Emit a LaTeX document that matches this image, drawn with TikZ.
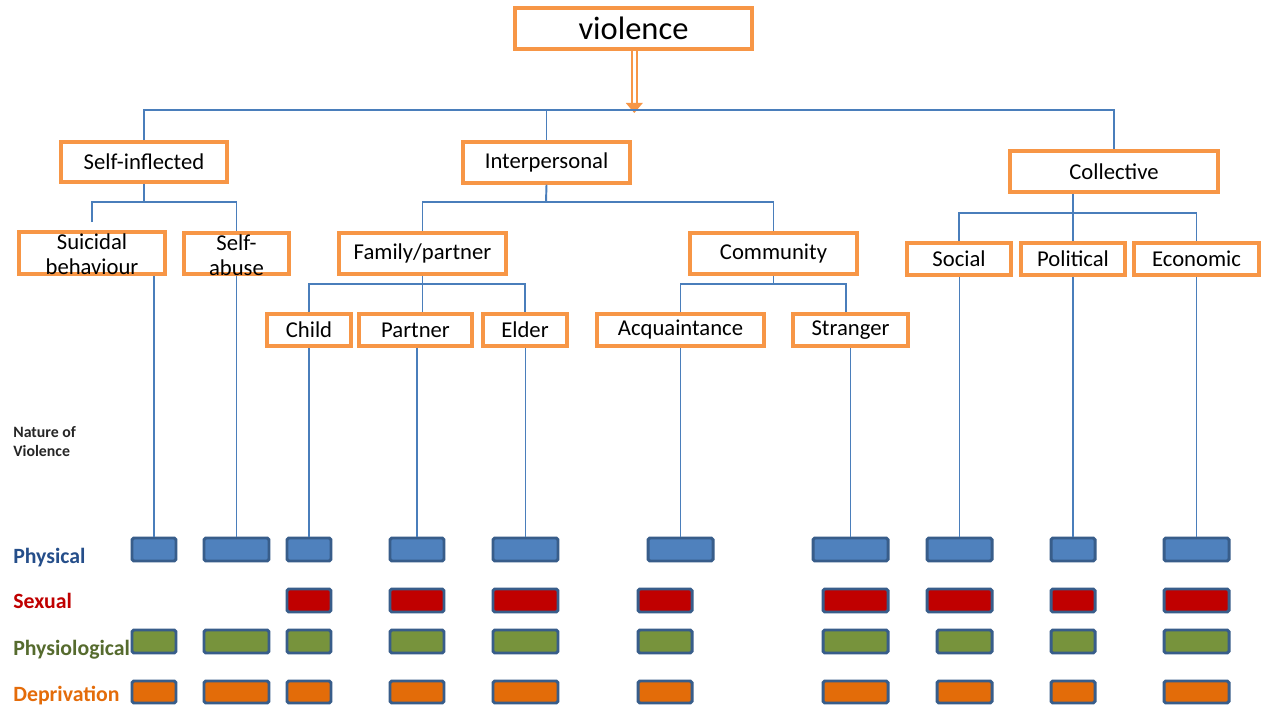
\documentclass[tikz,border=0pt]{standalone}
\usepackage{fontspec}
\setmainfont{Carlito}
\usetikzlibrary{fit}
\definecolor{ob}{HTML}{F79646}
\definecolor{lb}{HTML}{4A7EBB}
\definecolor{bb}{HTML}{385D8A}
\definecolor{physf}{HTML}{4F81BD}
\definecolor{sexf}{HTML}{C00000}
\definecolor{psyf}{HTML}{77933C}
\definecolor{depf}{HTML}{E36C09}
\definecolor{physt}{HTML}{254E8A}
\definecolor{sext}{HTML}{C00000}
\definecolor{psyt}{HTML}{566B2E}
\definecolor{dept}{HTML}{E46C0A}
\definecolor{natt}{HTML}{262626}
\begin{document}
\begin{tikzpicture}[x=0.02cm,y=-0.02cm,
  obox/.style={draw=ob, line width=2pt, fill=white, inner sep=0pt, font=\fontsize{12.9}{14.5}\selectfont, align=center},
  otext/.style={inner sep=0pt, font=\fontsize{12.9}{14.2}\selectfont, align=center},
  conn/.style={draw=lb, line width=1.1pt},
  barbox/.style={draw=bb, line width=1.7pt, rounded corners=1pt, inner sep=0pt},
  lab/.style={anchor=base west, inner sep=0pt, font=\fontsize{12.4}{14}\selectfont\bfseries}]
\path[fill=white] (0,0) rectangle (1268,706);

% boxes
\node[obox, minimum width=4.74cm, minimum height=0.82cm, font=\fontsize{18.5}{20}\selectfont] (vio) at (633.5,28.5) {violence};
\node[obox, minimum width=3.32cm, minimum height=0.80cm] (si) at (144,162) {Self-inflected};
\node[obox, minimum width=3.34cm, minimum height=0.82cm] (ip) at (546.5,162.5) {Interpersonal};
\node[obox, minimum width=4.16cm, minimum height=0.82cm] (coll) at (1114,171.5) {Collective};
\node[obox, minimum width=2.92cm, minimum height=0.84cm] (su) at (92,253) {};
\node[otext] (sut) at (92,254.5) {Suicidal\\behaviour};
\node[obox, minimum width=2.10cm, minimum height=0.82cm] (sa) at (236.5,253.5) {};
\node[otext] (sat) at (236.5,255) {Self-\\abuse};
\node[obox, minimum width=3.34cm, minimum height=0.82cm] (fp) at (422.5,253.5) {Family/partner};
\node[obox, minimum width=3.34cm, minimum height=0.82cm] (cm) at (773.5,253.5) {Community};
\node[obox, minimum width=1.68cm, minimum height=0.64cm] (ch) at (309,330) {Child};
\node[obox, minimum width=2.26cm, minimum height=0.64cm] (pa) at (415.5,330) {Partner};
\node[obox, minimum width=1.68cm, minimum height=0.64cm] (el) at (525,330) {Elder};
\node[obox, minimum width=3.34cm, minimum height=0.64cm] (ac) at (680.5,330) {Acquaintance};
\node[obox, minimum width=2.30cm, minimum height=0.64cm] (st) at (850.5,330) {Stranger};
\node[obox, minimum width=2.08cm, minimum height=0.64cm] (so) at (959,259) {Social};
\node[obox, minimum width=2.08cm, minimum height=0.64cm] (po) at (1073,259) {Political};
\node[obox, minimum width=2.50cm, minimum height=0.64cm] (ec) at (1196.5,259) {Economic};

% arrow from violence
\coordinate (ahead) at (634.3,104);
\coordinate (atip) at (634.3,113);
\draw[ob, line width=0.85pt, double=white, double distance=2pt] (vio.south -| ahead) -- (ahead);
\fill[ob] (625.8,103) -- (642.8,103) -- (atip) -- cycle;

% top level connectors
\coordinate (jt) at (144,110);
\draw[conn] (si.north) |- (coll.north |- jt) -- (coll.north);
\draw[conn] (ip.north) -- (ip.north |- jt);

% self-inflected
\coordinate (j2) at (144,202);
\coordinate (se) at (92,222);
\draw[conn] (si.south) -- (j2);
\draw[conn] (se) |- (sa.north |- j2) -- (sa.north);

% interpersonal
\coordinate (j3) at (546,202);
\draw[conn] (ip.south) -- (j3);
\draw[conn] (fp.north) |- (cm.north |- j3) -- (cm.north);

% family
\coordinate (j4) at (422,284);
\draw[conn] (fp.south) -- (fp.south |- j4);
\draw[conn] (ch.north) |- (el.north |- j4) -- (el.north);
\draw[conn] (fp.south |- j4) -- (fp.south |- pa.north);

% community
\coordinate (sd) at (846,284);
\draw[conn] (cm.south) -- (cm.south |- sd);
\draw[conn] (ac.north) |- (sd) -- (sd |- st.north);

% collective
\coordinate (cd) at (1073,213);
\draw[conn] (coll.south -| cd) -- (po.north);
\draw[conn] (so.north) |- (ec.north |- cd) -- (ec.north);

% labels
\node[anchor=north west, inner sep=0pt, align=left, text=natt, font=\fontsize{9}{10.8}\selectfont\bfseries] (nat) at (13,426) {Nature of\\Violence};
\node[lab, text=physt] (lph) at (13,563) {Physical};
\node[lab, text=sext] (lsx) at (13,608) {Sexual};
\node[lab, text=psyt] (lpy) at (13,655) {Physiological};
\node[lab, text=dept] (ldp) at (13,701) {Deprivation};

% bars
\foreach \n/\a/\b in {1/132/176,2/204/269,3/287/331,4/390/444,5/493/558,6/648/713,7/813/888,8/927/992,9/1051/1095,10/1164/1229}
  \node[barbox, fill=physf, fit={(\a,538)(\b,561)}] (ph\n) {};
\foreach \n/\a/\b in {3/287/331,4/390/444,5/493/558,6/638/692,7/823/888,8/927/992,9/1051/1095,10/1164/1229}
  \node[barbox, fill=sexf, fit={(\a,589)(\b,612)}] (sx\n) {};
\foreach \n/\a/\b in {1/132/176,2/204/269,3/287/331,4/390/444,5/493/558,6/638/692,7/823/888,8/937/992,9/1051/1095,10/1164/1229}
  \node[barbox, fill=psyf, fit={(\a,630)(\b,653)}] (py\n) {};
\foreach \n/\a/\b in {1/132/176,2/204/269,3/287/331,4/390/444,5/493/558,6/638/692,7/823/888,8/937/992,9/1051/1095,10/1164/1229}
  \node[barbox, fill=depf, fit={(\a,681)(\b,703)}] (dp\n) {};

% verticals to bars
\draw[conn] (ph1.north) -- (ph1.north |- su.south);
\draw[conn] (ph2.north) -- (ph2.north |- sa.south);
\draw[conn] (ph3.north) -- (ph3.north |- ch.south);
\draw[conn] (ph4.north) -- (ph4.north |- pa.south);
\draw[conn] (ph5.north) -- (ph5.north |- el.south);
\draw[conn] (ph6.north) -- (ph6.north |- ac.south);
\draw[conn] (ph7.north) -- (ph7.north |- st.south);
\draw[conn] (ph8.north) -- (ph8.north |- so.south);
\draw[conn] (ph9.north) -- (ph9.north |- po.south);
\draw[conn] (ph10.north) -- (ph10.north |- ec.south);
\end{tikzpicture}
\end{document}
